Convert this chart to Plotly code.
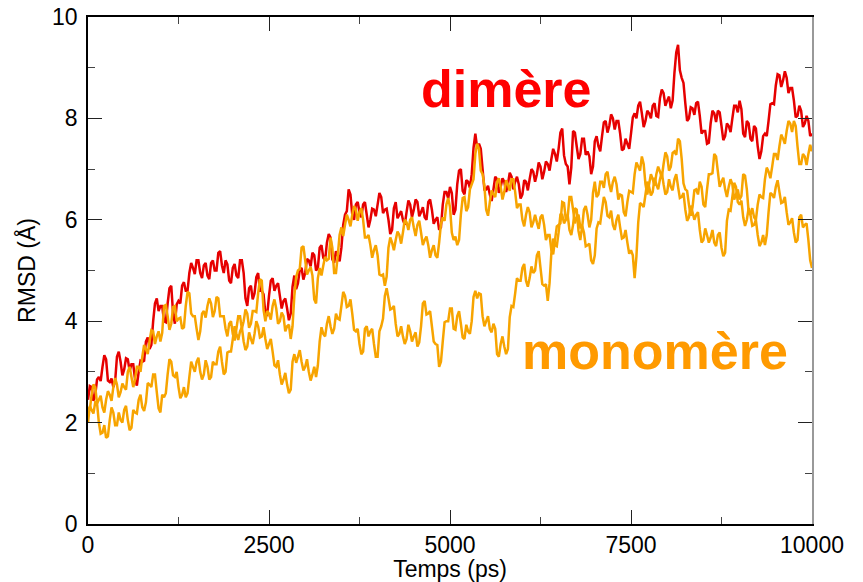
import plotly.graph_objects as go

# time axis (ps), 25 ps steps
time_ps = list(range(0, 10001, 25))

dimere = [
    2.45, 2.72, 2.7, 2.43, 2.55, 2.85, 2.9, 2.82, 3.1, 3.33, 3.25, 2.83, 2.8, 2.87, 2.7, 2.82, 3.3, 3.4, 3.2, 2.93,
    3.05, 3.27, 3.25, 3.02, 3.15, 3.15, 2.85, 2.73, 3.0, 3.22, 3.2, 3.22, 3.6, 3.68, 3.45, 3.53, 4.0, 4.35, 4.45, 4.2,
    4.3, 4.3, 4.0, 3.98, 4.35, 4.65, 4.7, 4.15, 3.95, 4.33, 4.4, 4.35, 4.7, 4.77, 4.6, 4.6, 4.95, 5.15, 5.05, 4.93,
    5.2, 5.2, 4.95, 4.85, 5.1, 5.15, 4.9, 4.83, 5.15, 5.2, 5.0, 5.0, 5.35, 5.38, 5.1, 4.95, 5.2, 5.12, 4.8, 4.75,
    5.05, 5.13, 4.9, 4.85, 5.2, 5.2, 4.95, 4.45, 4.3, 4.65, 4.7, 4.43, 4.55, 4.87, 4.95, 4.6, 4.6, 4.53, 4.15, 4.13,
    4.5, 4.8, 4.85, 4.6, 4.7, 4.75, 4.5, 4.25, 4.4, 4.45, 4.25, 4.02, 4.15, 4.68, 4.9, 4.63, 4.75, 5.02, 5.05, 4.82,
    4.95, 5.23, 5.2, 5.08, 5.35, 5.3, 5.0, 5.05, 5.45, 5.5, 5.25, 5.2, 5.55, 5.72, 5.65, 5.22, 5.15, 5.38, 5.3, 5.18,
    5.45, 5.9, 6.1, 6.17, 6.6, 6.5, 6.1, 6.0, 6.3, 6.35, 6.15, 6.05, 6.3, 6.35, 6.1, 5.85, 6.0, 6.22, 6.2, 6.07,
    6.3, 6.53, 6.45, 6.13, 6.2, 6.22, 6.0, 5.72, 5.8, 6.23, 6.35, 6.03, 6.1, 6.17, 6.0, 5.9, 6.15, 6.38, 6.3, 6.05,
    6.2, 6.4, 6.35, 6.07, 6.15, 6.25, 6.05, 6.0, 6.35, 6.4, 6.2, 5.92, 6.0, 6.05, 5.8, 5.85, 6.3, 6.55, 6.55, 6.42,
    6.65, 6.53, 6.1, 6.2, 6.7, 6.97, 7.0, 6.57, 6.5, 6.78, 6.75, 6.63, 6.9, 7.42, 7.7, 7.42, 7.5, 7.4, 7.0, 6.6,
    6.6, 6.67, 6.5, 6.37, 6.6, 6.85, 6.8, 6.53, 6.65, 6.82, 6.75, 6.55, 6.7, 6.93, 6.85, 6.6, 6.75, 6.85, 6.7, 6.42,
    6.5, 6.78, 6.75, 6.58, 6.8, 7.0, 6.95, 6.75, 6.9, 7.13, 7.05, 6.8, 6.95, 7.15, 7.1, 6.97, 7.2, 7.4, 7.3, 7.15,
    7.4, 7.72, 7.8, 7.27, 7.1, 7.05, 6.7, 7.03, 7.75, 7.72, 7.45, 7.2, 7.3, 7.6, 7.6, 7.28, 7.35, 7.25, 6.9, 7.05,
    7.55, 7.65, 7.45, 7.35, 7.65, 7.92, 7.95, 7.72, 7.85, 8.08, 8.0, 7.78, 7.95, 7.95, 7.7, 7.37, 7.4, 7.6, 7.5, 7.4,
    7.7, 8.02, 8.1, 8.0, 8.25, 8.33, 8.1, 7.83, 7.95, 8.15, 8.1, 8.0, 8.25, 8.3, 8.05, 8.03, 8.4, 8.57, 8.5, 8.25,
    8.35, 8.43, 8.2, 8.35, 8.9, 9.3, 9.45, 8.95, 8.8, 8.7, 8.3, 7.95, 8.0, 8.22, 8.2, 8.07, 8.3, 8.33, 8.05, 7.7,
    7.75, 7.75, 7.5, 7.52, 7.9, 8.15, 8.1, 7.93, 8.15, 8.12, 7.85, 7.57, 7.65, 7.9, 7.85, 7.73, 8.0, 8.25, 8.25, 8.12,
    8.35, 8.18, 7.7, 7.63, 7.95, 7.9, 7.6, 7.55, 7.85, 7.8, 7.45, 7.2, 7.35, 7.65, 7.7, 7.65, 7.95, 8.28, 8.3, 8.28,
    8.65, 8.87, 8.85, 8.62, 8.75, 8.93, 8.8, 8.5, 8.6, 8.6, 8.35, 8.02, 8.05, 8.25, 8.15, 7.83, 7.9, 8.05, 7.95, 7.65,
    7.7,
]

monomere_a = [
    2.3, 2.25, 2.55, 2.75, 2.7, 2.38, 2.45, 2.53, 2.3, 2.2, 2.45, 2.62, 2.55, 2.43, 2.7, 2.88, 2.75, 2.5, 2.6, 2.77,
    2.7, 2.65, 3.0, 3.1, 2.9, 2.7, 2.85, 3.1, 3.1, 3.0, 3.3, 3.53, 3.45, 3.35, 3.6, 3.82, 3.8, 3.55, 3.7, 3.8,
    3.6, 3.77, 4.3, 4.32, 4.1, 3.83, 3.95, 4.28, 4.3, 4.0, 4.05, 4.07, 3.85, 3.88, 4.3, 4.58, 4.55, 4.15, 4.1, 4.1,
    3.85, 3.63, 3.8, 4.15, 4.2, 4.07, 4.3, 4.45, 4.35, 4.08, 4.2, 4.48, 4.45, 4.1, 4.1, 4.1, 3.85, 3.7, 3.95, 4.0,
    3.75, 3.62, 3.85, 4.1, 4.1, 3.85, 4.0, 4.23, 4.15, 3.87, 3.95, 4.2, 4.2, 4.18, 4.55, 4.83, 4.8, 4.22, 4.0, 4.2,
    4.15, 4.03, 4.3, 4.43, 4.25, 3.95, 4.0, 4.17, 4.1, 3.8, 3.9, 3.93, 3.65, 3.9, 4.5, 4.87, 5.0, 5.03, 5.45, 5.48,
    5.2, 4.92, 5.0, 5.07, 4.9, 4.43, 4.35, 4.85, 5.05, 4.9, 5.1, 5.27, 5.2, 5.23, 5.65, 5.45, 4.95, 4.95, 5.3, 5.7,
    5.85, 5.68, 5.9, 6.1, 6.0, 5.87, 6.1, 6.27, 6.2, 5.98, 6.15, 6.23, 6.0, 5.65, 5.65, 5.7, 5.5, 5.25, 5.4, 5.5,
    5.3, 4.92, 4.9, 4.92, 4.7, 4.88, 5.45, 5.65, 5.55, 5.4, 5.6, 5.77, 5.7, 5.53, 5.75, 6.0, 5.95, 5.8, 6.0, 6.05,
    5.85, 5.68, 5.9, 5.98, 5.75, 5.5, 5.6, 5.67, 5.5, 5.25, 5.4, 5.5, 5.3, 5.25, 5.55, 5.92, 6.05, 5.98, 6.3, 6.43,
    6.25, 5.75, 5.6, 5.67, 5.5, 5.6, 6.1, 6.43, 6.45, 6.17, 6.25, 6.6, 6.7, 6.8, 7.3, 7.5, 7.4, 6.97, 6.9, 6.67,
    6.2, 6.08, 6.35, 6.58, 6.5, 6.45, 6.75, 6.82, 6.65, 6.4, 6.55, 6.78, 6.7, 6.57, 6.8, 6.8, 6.55, 6.23, 6.3, 6.3,
    6.0, 5.87, 6.1, 6.25, 6.15, 5.85, 5.95, 6.1, 5.95, 5.82, 6.05, 6.1, 5.9, 5.6, 5.7, 5.7, 5.4, 5.32, 5.6, 5.87,
    5.9, 5.93, 6.35, 6.33, 6.0, 6.05, 6.45, 6.45, 6.2, 5.93, 6.05, 6.1, 5.85, 5.85, 6.2, 6.27, 6.1, 5.85, 6.0, 6.53,
    6.75, 6.45, 6.5, 6.75, 6.75, 6.63, 6.9, 6.95, 6.7, 6.55, 6.75, 6.85, 6.7, 6.4, 6.5, 6.48, 6.15, 6.07, 6.35, 6.57,
    6.55, 6.53, 6.9, 7.13, 7.05, 6.97, 7.25, 7.1, 6.7, 6.5, 6.7, 6.9, 6.8, 6.67, 6.9, 7.05, 6.95, 6.83, 7.1, 7.33,
    7.25, 6.97, 7.05, 7.32, 7.35, 7.28, 7.6, 7.55, 7.2, 6.72, 6.6, 6.57, 6.3, 6.08, 6.25, 6.58, 6.6, 6.5, 6.75, 6.65,
    6.3, 6.25, 6.6, 6.9, 6.9, 6.92, 7.3, 7.25, 6.95, 6.65, 6.75, 6.83, 6.6, 6.45, 6.65, 6.8, 6.7, 6.4, 6.5, 6.6,
    6.4, 6.47, 6.9, 6.87, 6.6, 6.15, 6.1, 6.23, 6.05, 6.0, 6.3, 6.5, 6.45, 6.43, 6.8, 7.03, 6.95, 6.82, 7.05, 7.3,
    7.3, 7.18, 7.45, 7.68, 7.6, 7.5, 7.75, 7.95, 7.9, 7.73, 7.95, 7.85, 7.45, 7.1, 7.1, 7.3, 7.25, 7.08, 7.3, 7.48,
    7.35,
]

monomere_b = [
    2.0, 2.33, 2.25, 2.18, 2.4, 2.38, 2.0, 1.78, 1.8, 1.95, 1.7, 1.73, 2.05, 2.3, 2.2, 1.95, 1.95, 2.2, 2.05, 2.0,
    2.25, 2.33, 2.05, 1.85, 1.9, 2.25, 2.2, 2.18, 2.45, 2.55, 2.3, 2.23, 2.4, 2.78, 2.75, 2.7, 2.95, 2.95, 2.6, 2.28,
    2.2, 2.55, 2.5, 2.58, 2.95, 3.25, 3.2, 2.93, 2.9, 3.0, 2.7, 2.48, 2.55, 2.7, 2.5, 2.58, 2.9, 3.2, 3.1, 3.0,
    3.2, 3.28, 3.0, 2.85, 2.95, 3.23, 3.1, 2.85, 2.9, 3.2, 3.15, 3.15, 3.4, 3.5, 3.2, 2.95, 3.0, 3.38, 3.4, 3.4,
    3.65, 3.9, 3.75, 3.63, 3.8, 3.88, 3.6, 3.43, 3.5, 3.78, 3.65, 3.55, 3.75, 4.0, 3.9, 3.68, 3.7, 3.88, 3.65, 3.45,
    3.55, 3.65, 3.4, 3.13, 3.1, 3.23, 2.95, 2.75, 2.85, 2.98, 2.75, 2.58, 2.65, 3.2, 3.35, 3.18, 3.3, 3.43, 3.2, 3.03,
    3.1, 3.25, 3.0, 2.83, 2.95, 3.1, 2.9, 3.13, 3.6, 3.88, 3.75, 3.7, 3.95, 4.1, 3.9, 3.75, 3.85, 4.15, 4.05, 4.03,
    4.3, 4.58, 4.5, 4.28, 4.3, 4.43, 4.15, 3.83, 3.8, 3.85, 3.55, 3.35, 3.4, 3.85, 3.9, 3.7, 3.8, 3.85, 3.55, 3.3,
    3.3, 3.8, 3.9, 4.05, 4.5, 4.65, 4.45, 4.23, 4.25, 4.3, 3.95, 3.7, 3.75, 3.9, 3.7, 3.55, 3.65, 3.93, 3.8, 3.6,
    3.7, 3.78, 3.5, 3.58, 3.9, 4.35, 4.4, 4.13, 4.15, 4.2, 3.9, 3.6, 3.55, 3.53, 3.1, 3.2, 3.6, 3.98, 4.0, 4.0,
    4.25, 4.25, 3.85, 3.83, 4.1, 4.2, 3.95, 3.68, 3.65, 3.93, 3.8, 3.75, 4.0, 4.48, 4.6, 4.45, 4.55, 4.53, 4.1, 3.9,
    4.0, 4.1, 3.85, 3.78, 3.95, 3.85, 3.35, 3.3, 3.55, 3.7, 3.5, 3.35, 3.45, 4.08, 4.3, 4.28, 4.55, 4.85, 4.8, 4.8,
    5.05, 5.13, 4.8, 4.68, 4.85, 5.08, 4.95, 5.0, 5.3, 5.38, 5.05, 4.73, 4.7, 4.73, 4.4, 4.75, 5.35, 5.63, 5.5, 5.48,
    5.75, 6.1, 6.1, 5.93, 6.0, 6.1, 5.8, 5.7, 5.9, 6.23, 6.2, 5.78, 5.6, 5.88, 5.75, 5.48, 5.5, 5.53, 5.2, 5.13,
    5.3, 5.83, 5.95, 5.93, 6.2, 6.45, 6.35, 6.08, 6.05, 6.18, 5.9, 5.8, 6.0, 6.1, 5.85, 5.63, 5.65, 5.8, 5.55, 5.33,
    5.4, 5.3, 4.85, 5.28, 5.95, 6.33, 6.3, 6.25, 6.5, 6.75, 6.65, 6.48, 6.55, 6.83, 6.7, 6.6, 6.8, 6.93, 6.7, 6.5,
    6.55, 6.8, 6.65, 6.58, 6.8, 6.9, 6.65, 6.43, 6.45, 6.53, 6.2, 5.98, 6.05, 6.28, 6.15, 6.0, 6.1, 6.15, 5.8, 5.55,
    5.6, 5.83, 5.7, 5.55, 5.65, 5.8, 5.55, 5.48, 5.7, 5.75, 5.45, 5.28, 5.35, 5.98, 6.2, 6.18, 6.45, 6.73, 6.65, 6.35,
    6.3, 6.38, 6.05, 5.88, 6.0, 6.23, 6.1, 5.88, 5.9, 6.0, 5.7, 5.48, 5.55, 5.7, 5.5, 5.7, 6.15, 6.53, 6.5, 6.43,
    6.65, 6.78, 6.55, 6.33, 6.35, 6.45, 6.15, 5.9, 5.95, 6.03, 5.75, 5.55, 5.6, 6.05, 6.1, 5.85, 5.9, 5.93, 5.6, 5.2,
    5.05,
]

for _name, _series in (("dimere", dimere), ("monomere_a", monomere_a), ("monomere_b", monomere_b)):
    assert len(_series) == len(time_ps), (_name, len(_series), len(time_ps))

x_ticks = [0, 2500, 5000, 7500, 10000]
y_ticks = [0, 2, 4, 6, 8, 10]

RED = "#e60000"
ORANGE = "#f7a400"
FONT = "Liberation Sans, Arial, Helvetica, sans-serif"

fig = go.Figure()
fig.add_trace(go.Scatter(x=time_ps, y=dimere, mode="lines",
                         line=dict(color=RED, width=2.5), name="dimère"))
fig.add_trace(go.Scatter(x=time_ps, y=monomere_a, mode="lines",
                         line=dict(color=ORANGE, width=2.5), name="monomère A"))
fig.add_trace(go.Scatter(x=time_ps, y=monomere_b, mode="lines",
                         line=dict(color=ORANGE, width=2.5), name="monomère B"))
# dummy trace so that the right-hand axis is drawn
fig.add_trace(go.Scatter(x=[None], y=[None], yaxis="y2", showlegend=False, hoverinfo="skip"))

fig.update_layout(
    width=863, height=582,
    margin=dict(l=88, r=51, t=17, b=58),
    paper_bgcolor="white", plot_bgcolor="white",
    showlegend=False,
    font=dict(family=FONT, color="black"),
    xaxis=dict(
        range=[0, 10000], tickvals=x_ticks, ticktext=[str(v) for v in x_ticks],
        ticks="inside", ticklen=14, tickwidth=1.3, tickcolor="#222",
        minor=dict(ticks="inside", ticklen=7, dtick=1250, tickwidth=1.2, tickcolor="#444", tick0=0),
        showline=True, linecolor="black", linewidth=1.5, mirror="ticks",
        showgrid=False, zeroline=False, automargin=False,
        tickfont=dict(size=23, family=FONT),
        title=dict(text="Temps (ps)", font=dict(size=23, family=FONT), standoff=2),
    ),
    yaxis=dict(
        range=[0, 10], tickvals=y_ticks, ticktext=[str(v) for v in y_ticks],
        ticks="inside", ticklen=14, tickwidth=1.3, tickcolor="#222",
        minor=dict(ticks="inside", ticklen=7, dtick=1, tickwidth=1.2, tickcolor="#444", tick0=0),
        showline=True, linecolor="black", linewidth=1.5, mirror=False,
        showgrid=False, zeroline=False, automargin=False,
        tickfont=dict(size=23, family=FONT),
        ticklabelstandoff=4,
        title=dict(text="RMSD (Å)", font=dict(size=23, family=FONT), standoff=10),
    ),
    yaxis2=dict(
        range=[0, 10], overlaying="y", side="right", anchor="x",
        tickvals=y_ticks, showticklabels=False,
        ticks="inside", ticklen=14, tickwidth=1.3, tickcolor="#222",
        minor=dict(ticks="inside", ticklen=7, dtick=1, tickwidth=1.2, tickcolor="#444", tick0=0),
        showline=True, linecolor="#999", linewidth=1.5,
        showgrid=False, zeroline=False, automargin=False,
    ),
)

fig.add_annotation(x=5787, y=8.58, xref="x", yref="y", text="<b>dimère</b>",
                   showarrow=False, xanchor="center", yanchor="middle",
                   font=dict(size=52, color="#ff0000", family=FONT))
fig.add_annotation(x=7830, y=3.41, xref="x", yref="y", text="<b>monomère</b>",
                   showarrow=False, xanchor="center", yanchor="middle",
                   font=dict(size=52, color="#ff9a00", family=FONT))

fig.write_html("out.html")
